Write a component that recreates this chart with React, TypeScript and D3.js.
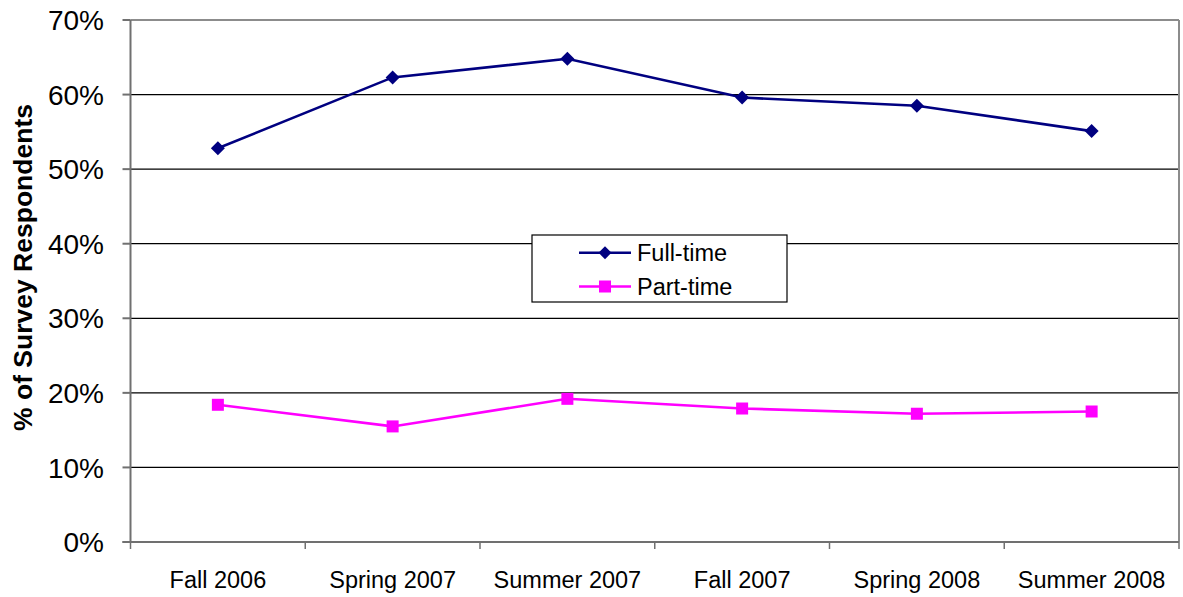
import React from "react";
import * as d3 from "d3";

const categories = ["Fall 2006", "Spring 2007", "Summer 2007", "Fall 2007", "Spring 2008", "Summer 2008"];
const fullTime = [0.528, 0.623, 0.648, 0.596, 0.585, 0.551];
const partTime = [0.184, 0.155, 0.192, 0.179, 0.172, 0.175];
const yTicks = [0, 0.1, 0.2, 0.3, 0.4, 0.5, 0.6, 0.7];
const seriesNames = ["Full-time", "Part-time"];

const W = 1183;
const H = 597;
const left = 130.5;
const right = 1179;
const top = 20;
const bottom = 542;
const FONT = "Liberation Sans, Arial, sans-serif";

export default function App() {
  const x = d3.scaleBand<string>().domain(categories).range([left, right]);
  const y = d3.scaleLinear().domain([0, 0.7]).range([bottom, top]);
  const cx = (c: string) => (x(c) as number) + x.bandwidth() / 2;
  const line = d3
    .line<number>()
    .x((_, i) => cx(categories[i]))
    .y((d) => y(d));
  const fmt = d3.format(".0%");
  const boundaries = categories.map((c) => x(c) as number).concat([right]);

  const diamond = (px: number, py: number, r: number) =>
    `M${px},${py - r}L${px + r},${py}L${px},${py + r}L${px - r},${py}Z`;

  const legX = 532;
  const legY = 235;
  const legW = 255;
  const legH = 67;
  const rows = [252.7, 286.5];

  return (
    <svg width={W} height={H} style={{ position: "absolute", left: 0, top: 0, background: "#fff" }}>
      <rect x={0} y={0} width={W} height={H} fill="#fff" />
      {/* gridlines */}
      {yTicks.slice(1, -1).map((t) => (
        <line key={t} x1={left} x2={right} y1={y(t)} y2={y(t)} stroke="#000" strokeWidth={1.2} />
      ))}
      {/* top & right border */}
      <line x1={left} x2={right} y1={top} y2={top} stroke="#8c8c8c" strokeWidth={2} />
      <line x1={right} x2={right} y1={top} y2={bottom} stroke="#8c8c8c" strokeWidth={2} />
      {/* y axis */}
      <line x1={left} x2={left} y1={top} y2={bottom + 1} stroke="#707070" strokeWidth={2} />
      {yTicks.map((t) => (
        <g key={"yt" + t}>
          <line x1={left - 8} x2={left} y1={y(t)} y2={y(t)} stroke="#707070" strokeWidth={2} />
          <text x={104} y={y(t)} dy="0.36em" textAnchor="end" fontFamily={FONT} fontSize={28} fill="#000">
            {fmt(t)}
          </text>
        </g>
      ))}
      {/* x axis */}
      <line x1={left - 8} x2={right} y1={bottom} y2={bottom} stroke="#707070" strokeWidth={2} />
      {boundaries.map((b, i) => (
        <line key={"xt" + i} x1={b} x2={b} y1={bottom} y2={bottom + 7} stroke="#707070" strokeWidth={1.5} />
      ))}
      {categories.map((c) => (
        <text key={c} x={cx(c)} y={588} textAnchor="middle" fontFamily={FONT} fontSize={23.5} fill="#000">
          {c}
        </text>
      ))}
      {/* y title */}
      <text
        transform={`translate(32,267.5) rotate(-90)`}
        textAnchor="middle"
        fontFamily={FONT}
        fontSize={26.5}
        fontWeight="bold"
        fill="#000"
      >
        % of Survey Respondents
      </text>
      {/* series */}
      <path d={line(fullTime) || ""} fill="none" stroke="#000080" strokeWidth={2.6} />
      {fullTime.map((v, i) => (
        <path key={"f" + i} d={diamond(cx(categories[i]), y(v), 7)} fill="#000080" />
      ))}
      <path d={line(partTime) || ""} fill="none" stroke="#ff00ff" strokeWidth={2.6} />
      {partTime.map((v, i) => (
        <rect key={"p" + i} x={cx(categories[i]) - 6} y={y(v) - 6} width={12} height={12} fill="#ff00ff" />
      ))}
      {/* legend */}
      <rect x={legX} y={legY} width={legW} height={legH} fill="#fff" stroke="#000" strokeWidth={1.2} />
      <line x1={579} x2={631} y1={rows[0]} y2={rows[0]} stroke="#000080" strokeWidth={2.6} />
      <path d={diamond(605, rows[0], 6.5)} fill="#000080" />
      <line x1={579} x2={631} y1={rows[1]} y2={rows[1]} stroke="#ff00ff" strokeWidth={2.6} />
      <rect x={599} y={rows[1] - 6} width={12} height={12} fill="#ff00ff" />
      {seriesNames.map((n, i) => (
        <text key={n} x={637} y={rows[i]} dy="0.36em" fontFamily={FONT} fontSize={23.5} fill="#000">
          {n}
        </text>
      ))}
    </svg>
  );
}
